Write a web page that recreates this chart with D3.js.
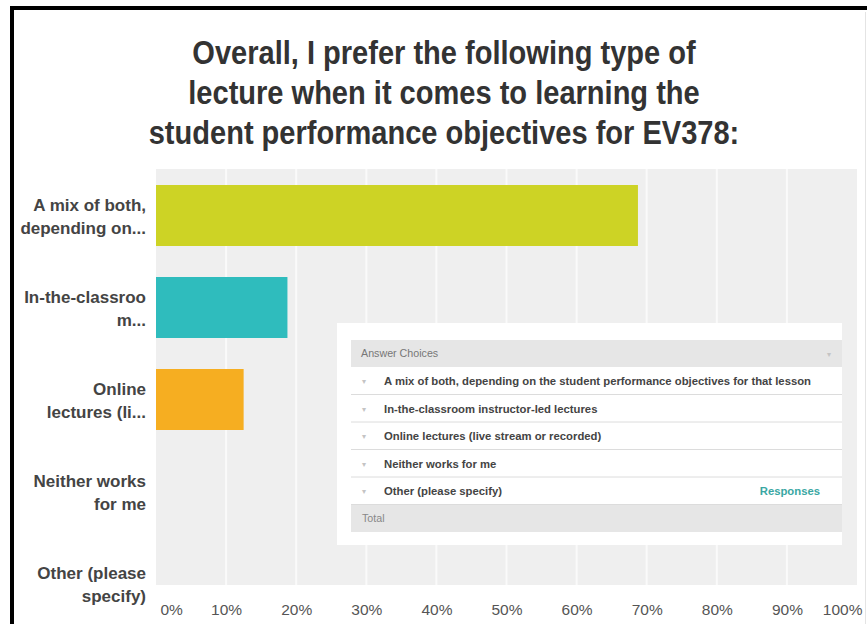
<!DOCTYPE html>
<html>
<head>
<meta charset="utf-8">
<script src="https://cdn.jsdelivr.net/npm/d3@7"></script>
<style>
  html, body { margin: 0; padding: 0; background: #fff; }
  svg { display: block; }
  text { font-family: "Liberation Sans", Arial, sans-serif; }
</style>
</head>
<body>
<svg id="chart" width="867" height="624"></svg>
<script>
// Survey answer choices (short axis labels, two lines each)
const categoryLabels = [
  ["A mix of both,", "depending on..."],
  ["In-the-classroo", "m..."],
  ["Online", "lectures (li..."],
  ["Neither works", "for me"],
  ["Other (please", "specify)"]
];
const categories = ["mix", "classroom", "online", "neither", "other"];
// Share of respondents, percent
const percentages = [68.75, 18.75, 12.5, 0, 0];
const barColors = ["#cdd325", "#2fbcbd", "#f6ae21", "#8e7cc3", "#e5556f"];
const tickValues = [0, 10, 20, 30, 40, 50, 60, 70, 80, 90, 100];
const titleLines = [
  "Overall, I prefer the following type of",
  "lecture when it comes to learning the",
  "student performance objectives for EV378:"
];
// Full answer texts shown in the answer-choices table
const answerChoices = [
  "A mix of both, depending on the student performance objectives for that lesson",
  "In-the-classroom instructor-led lectures",
  "Online lectures (live stream or recorded)",
  "Neither works for me",
  "Other (please specify)"
];

const svg = d3.select("#chart");

// frame lines (top and left)
svg.append("rect").attr("x", 10).attr("y", 6).attr("width", 857).attr("height", 4).attr("fill", "#000");
svg.append("rect").attr("x", 10).attr("y", 6).attr("width", 4).attr("height", 618).attr("fill", "#000");
svg.append("line").attr("x1", 865.5).attr("x2", 865.5).attr("y1", 12).attr("y2", 624)
  .attr("stroke", "#e4e4e4").attr("stroke-width", 1);

// title (condensed bold)
svg.append("g").selectAll("text").data(titleLines).join("text")
  .attr("x", 444)
  .attr("y", (d, i) => 64 + i * 40)
  .attr("text-anchor", "middle")
  .attr("font-size", 33)
  .attr("font-weight", "bold")
  .attr("fill", "#333")
  .attr("transform", "translate(444,0) scale(0.88,1) translate(-444,0)")
  .text(d => d);

// scales
const x = d3.scaleLinear().domain([0, 100]).range([156, 857]);
const y = d3.scaleBand().domain(categories).range([169.5, 629.5])
  .paddingInner(0.337).paddingOuter(0.1685);

const plotTop = 169, plotBottom = 585;

// plot background
svg.append("rect")
  .attr("x", x(0)).attr("y", plotTop)
  .attr("width", x(100) - x(0)).attr("height", plotBottom - plotTop)
  .attr("fill", "#efefef");

// vertical grid
svg.append("g").selectAll("line").data(tickValues.slice(1, -1)).join("line")
  .attr("x1", d => x(d)).attr("x2", d => x(d))
  .attr("y1", plotTop).attr("y2", plotBottom)
  .attr("stroke", "#fafafa").attr("stroke-width", 2);

// bars
svg.append("g").selectAll("rect").data(categories).join("rect")
  .attr("x", x(0))
  .attr("y", d => y(d))
  .attr("width", (d, i) => x(percentages[i]) - x(0))
  .attr("height", y.bandwidth())
  .attr("fill", (d, i) => barColors[i]);

// category labels
const catG = svg.append("g");
categories.forEach((c, i) => {
  const cy = y(c) + y.bandwidth() / 2;
  const t = catG.append("text")
    .attr("x", 146)
    .attr("text-anchor", "end")
    .attr("font-size", 17)
    .attr("font-weight", "bold")
    .attr("fill", "#444");
  categoryLabels[i].forEach((line, j) => {
    t.append("tspan").attr("x", 146).attr("y", cy - 5 + j * 23).text(line);
  });
});

// x axis tick labels
const xAxis = d3.axisBottom(x).tickValues(tickValues).tickFormat(d => d + "%").tickSize(0).tickPadding(0);
const axisG = svg.append("g").attr("transform", "translate(0,601)").call(xAxis);
axisG.select(".domain").remove();
axisG.selectAll("text")
  .attr("font-family", "Liberation Sans, Arial, sans-serif")
  .attr("font-size", 15.5)
  .attr("fill", "#555")
  .attr("dy", "0.9em");
axisG.selectAll(".tick").filter(d => d === 0).select("text").attr("text-anchor", "start").attr("x", 4);
axisG.selectAll(".tick").filter(d => d === 100).select("text").attr("text-anchor", "end").attr("x", 5);

// answer-choices table overlay
const tb = svg.append("g");
tb.append("rect").attr("x", 337).attr("y", 323).attr("width", 505).attr("height", 222).attr("fill", "#fff");
const tx0 = 351, tx1 = 842;
tb.append("rect").attr("x", tx0).attr("y", 340).attr("width", tx1 - tx0).attr("height", 27).attr("fill", "#e6e6e6");
tb.append("text").attr("x", 361).attr("y", 357).attr("font-size", 10.7).attr("fill", "#777").text("Answer Choices");
tb.append("text").attr("x", 829).attr("y", 357).attr("font-size", 8).attr("fill", "#c4c4c4").attr("text-anchor", "middle").text("▾");

const rowY = [367, 394.5, 422, 449.5, 477];
answerChoices.forEach((a, i) => {
  const ry = rowY[i];
  tb.append("line").attr("x1", tx0).attr("x2", tx1).attr("y1", ry + 27.5).attr("y2", ry + 27.5)
    .attr("stroke", "#dcdcdc").attr("stroke-width", 1);
  tb.append("text").attr("x", 364).attr("y", ry + 17).attr("font-size", 8).attr("fill", "#c4c4c4")
    .attr("text-anchor", "middle").text("▾");
  tb.append("text").attr("x", 384).attr("y", ry + 18).attr("font-size", 11.3).attr("font-weight", "bold")
    .attr("fill", "#444").text(a);
});
tb.append("text").attr("x", 820).attr("y", rowY[4] + 18).attr("text-anchor", "end")
  .attr("font-size", 11.3).attr("font-weight", "bold").attr("fill", "#3aa7a3").text("Responses");
tb.append("rect").attr("x", tx0).attr("y", 505).attr("width", tx1 - tx0).attr("height", 27).attr("fill", "#e6e6e6");
tb.append("text").attr("x", 362).attr("y", 522).attr("font-size", 10.7).attr("fill", "#888").text("Total");
</script>
</body>
</html>
